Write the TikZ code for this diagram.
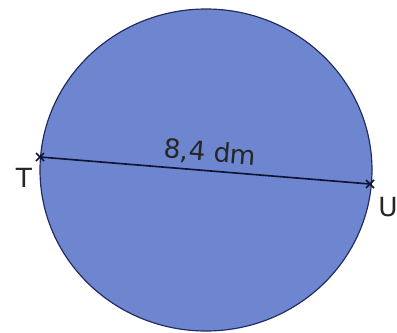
\documentclass[tikz,border=0pt]{standalone}
\usepackage{fontspec}
\setmainfont{DejaVu Sans}
\usetikzlibrary{calc}
\definecolor{discfill}{RGB}{110,134,207}
\definecolor{discedge}{RGB}{35,42,95}
\definecolor{chordc}{RGB}{15,20,50}

\tikzset{
  ptlabel/.style={anchor=center, font=\fontsize{22.5}{27}\selectfont, text=black!85},
  cross/.style={chordc, line width=1.3pt}
}

\begin{document}
\begin{tikzpicture}[x=0.03cm, y=-0.03cm]

  \useasboundingbox (0,0) rectangle (397,332);

  % the disc
  \draw[discedge, line width=1pt, fill=discfill] (206,170) ellipse [x radius=166, y radius=161];

  % end points of the diameter
  \coordinate (T) at (40,157);
  \coordinate (U) at (370,184);

  \draw[chordc, line width=1.4pt] (T) -- (U);
  \draw[cross] ($(T)+(-4,-4)$) -- ($(T)+(4,4)$) ($(T)+(-4,4)$) -- ($(T)+(4,-4)$);
  \draw[cross] ($(U)+(-4,-4)$) -- ($(U)+(4,4)$) ($(U)+(-4,4)$) -- ($(U)+(4,-4)$);

  % labels
  \node[ptlabel] (labT) at (24,178) {T};
  \node[ptlabel] (labU) at (388,207) {U};
  \node[ptlabel, rotate=-4.7] (len) at (210,153) {8,4 dm};

\end{tikzpicture}
\end{document}
